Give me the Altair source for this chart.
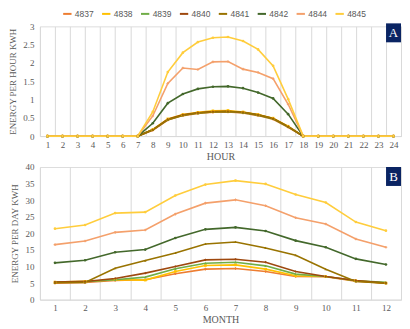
import altair as alt
import pandas as pd

series_names = ["4837", "4838", "4839", "4840", "4841", "4842", "4844", "4845"]
series_colors = ["#ED7D31", "#FFC000", "#70AD47", "#9E480E", "#997300", "#43682B", "#F4A06B", "#FFCD3C"]
series_shapes = ["cross", "square", "triangle-up", "diamond", "triangle-up", "circle", "cross", "circle"]

hours = [1, 2, 3, 4, 5, 6, 7, 8, 9, 10, 11, 12, 13, 14, 15, 16, 17, 18, 19, 20, 21, 22, 23, 24]
h_4837 = [0, 0, 0, 0, 0, 0, 0, 0.16, 0.44, 0.56, 0.62, 0.65, 0.66, 0.63, 0.56, 0.46, 0.24, 0, 0, 0, 0, 0, 0, 0]
h_4838 = [0, 0, 0, 0, 0, 0, 0, 0.18, 0.47, 0.59, 0.65, 0.69, 0.70, 0.66, 0.59, 0.49, 0.27, 0, 0, 0, 0, 0, 0, 0]
h_4839 = [0, 0, 0, 0, 0, 0, 0, 0.17, 0.45, 0.57, 0.63, 0.66, 0.67, 0.64, 0.57, 0.47, 0.25, 0, 0, 0, 0, 0, 0, 0]
h_4840 = [0, 0, 0, 0, 0, 0, 0, 0.17, 0.46, 0.58, 0.64, 0.67, 0.68, 0.65, 0.58, 0.48, 0.26, 0, 0, 0, 0, 0, 0, 0]
h_4841 = [0, 0, 0, 0, 0, 0, 0, 0.17, 0.45, 0.57, 0.63, 0.66, 0.67, 0.65, 0.58, 0.48, 0.26, 0, 0, 0, 0, 0, 0, 0]
h_4842 = [0, 0, 0, 0, 0, 0, 0, 0.35, 0.90, 1.15, 1.29, 1.35, 1.36, 1.31, 1.19, 1.03, 0.60, 0, 0, 0, 0, 0, 0, 0]
h_4844 = [0, 0, 0, 0, 0, 0, 0, 0.55, 1.44, 1.86, 1.82, 2.03, 2.04, 1.83, 1.74, 1.57, 0.87, 0, 0, 0, 0, 0, 0, 0]
h_4845 = [0, 0, 0, 0, 0, 0, 0, 0.66, 1.75, 2.28, 2.57, 2.69, 2.71, 2.60, 2.37, 1.92, 1.01, 0, 0, 0, 0, 0, 0, 0]

months = [1, 2, 3, 4, 5, 6, 7, 8, 9, 10, 11, 12]
m_4837 = [5.0, 5.2, 5.8, 6.0, 7.8, 9.2, 9.4, 8.5, 7.0, 6.9, 5.6, 5.0]
m_4838 = [5.3, 5.5, 6.0, 5.9, 8.5, 10.3, 10.5, 9.2, 7.2, 7.0, 5.7, 5.0]
m_4839 = [5.3, 5.4, 6.0, 6.8, 9.3, 11.0, 11.3, 10.2, 7.7, 7.0, 5.7, 5.2]
m_4840 = [5.3, 5.5, 6.4, 8.0, 10.0, 12.0, 12.2, 11.3, 8.5, 7.0, 5.8, 5.0]
m_4841 = [5.1, 5.2, 9.5, 11.8, 14.1, 16.8, 17.4, 15.6, 13.4, 9.2, 5.5, 5.0]
m_4842 = [11.1, 11.9, 14.3, 15.1, 18.6, 21.2, 21.8, 20.7, 17.8, 15.8, 12.3, 10.6]
m_4844 = [16.6, 17.7, 20.3, 21.0, 25.8, 29.1, 30.1, 28.3, 24.7, 22.8, 18.3, 15.8]
m_4845 = [21.4, 22.5, 26.1, 26.4, 31.4, 34.7, 35.9, 34.9, 31.7, 29.3, 23.4, 20.8]

hourly = [h_4837, h_4838, h_4839, h_4840, h_4841, h_4842, h_4844, h_4845]
monthly = [m_4837, m_4838, m_4839, m_4840, m_4841, m_4842, m_4844, m_4845]

rows_a = []
for i, (name, vals) in enumerate(zip(series_names, hourly)):
    for x, v in zip(hours, vals):
        rows_a.append({"x": x, "v": v, "s": name, "o": i})
rows_b = []
for i, (name, vals) in enumerate(zip(series_names, monthly)):
    for x, v in zip(months, vals):
        rows_b.append({"x": x, "v": v, "s": name, "o": i})
df_a = pd.DataFrame(rows_a)
df_b = pd.DataFrame(rows_b)

SERIF = "Liberation Serif"
GRAY = "#595959"

color_scale = alt.Scale(domain=series_names, range=series_colors)
color = alt.Color("s:N", scale=color_scale,
                  legend=alt.Legend(title=None, orient="none", direction="horizontal",
                                    legendX=22, legendY=-18,
                                    symbolType="stroke", symbolStrokeWidth=2, symbolSize=70,
                                    labelFont="Liberation Sans", labelFontSize=8.5, labelColor=GRAY,
                                    columnPadding=4, labelOffset=2))


def panel(df, xtitle, ytitle, ydomain, ystep, letter, w, h, badge_y, with_legend):
    x = alt.X("x:O", title=xtitle,
              scale=alt.Scale(paddingInner=0, paddingOuter=0),
              axis=alt.Axis(labelAngle=0, tickBand="extent", grid=True, gridColor="#d9d9d9",
                            ticks=False, domainColor="#d9d9d9", labelFont=SERIF, labelFontSize=9,
                            labelColor=GRAY, titleFont=SERIF, titleFontSize=10, titleFontWeight="normal",
                            titleColor=GRAY, labelPadding=4, titlePadding=2))
    y = alt.Y("v:Q", title=ytitle,
              scale=alt.Scale(domain=ydomain, nice=False),
              axis=alt.Axis(values=ystep, format="~g", grid=False, domain=False, ticks=False, labelFont=SERIF,
                            labelFontSize=9, labelColor=GRAY, titleFont=SERIF, titleFontSize=9,
                            titleFontWeight="normal", titleColor=GRAY, labelPadding=6, titlePadding=5))
    base = alt.Chart(df)
    lines = base.mark_line(strokeWidth=1.6).encode(
        x=x, y=y, color=color if with_legend else alt.Color("s:N", scale=color_scale, legend=None),
        order="o:Q", detail="s:N")
    layers = [lines]
    for name, shp, col in zip(series_names, series_shapes, series_colors):
        layers.append(base.transform_filter(alt.datum.s == name).mark_point(
            shape=shp, color=col, filled=True, size=7, opacity=1).encode(x=x, y=y))
    lab = pd.DataFrame({"t": [letter]})
    rect = alt.Chart(lab).mark_rect(color="#0A2463").encode(
        x=alt.value(w - 15), x2=alt.value(w), y=alt.value(badge_y), y2=alt.value(badge_y + 19))
    txt = alt.Chart(lab).mark_text(color="white", font=SERIF, fontSize=13, align="center", baseline="middle").encode(
        x=alt.value(w - 7.5), y=alt.value(badge_y + 10), text="t:N")
    layers += [rect, txt]
    return alt.layer(*layers).properties(width=w, height=h)


pa = panel(df_a, "HOUR", "ENERGY PER HOUR KWH", [0, 3], [0, 0.5, 1, 1.5, 2, 2.5, 3], "A", 362, 110, -3, True)
pb = panel(df_b, "MONTH", "ENERGY PER DAY KWH", [0, 40], [0, 5, 10, 15, 20, 25, 30, 35, 40], "B", 362, 133, 0, False)

chart = alt.vconcat(pa, pb, spacing=0).properties(
    padding={"left": 0, "right": 0, "top": 0, "bottom": 0}
).configure_view(stroke=None).configure(font=SERIF)

chart.save("out.html", embed_options={"renderer": "svg", "actions": False})
